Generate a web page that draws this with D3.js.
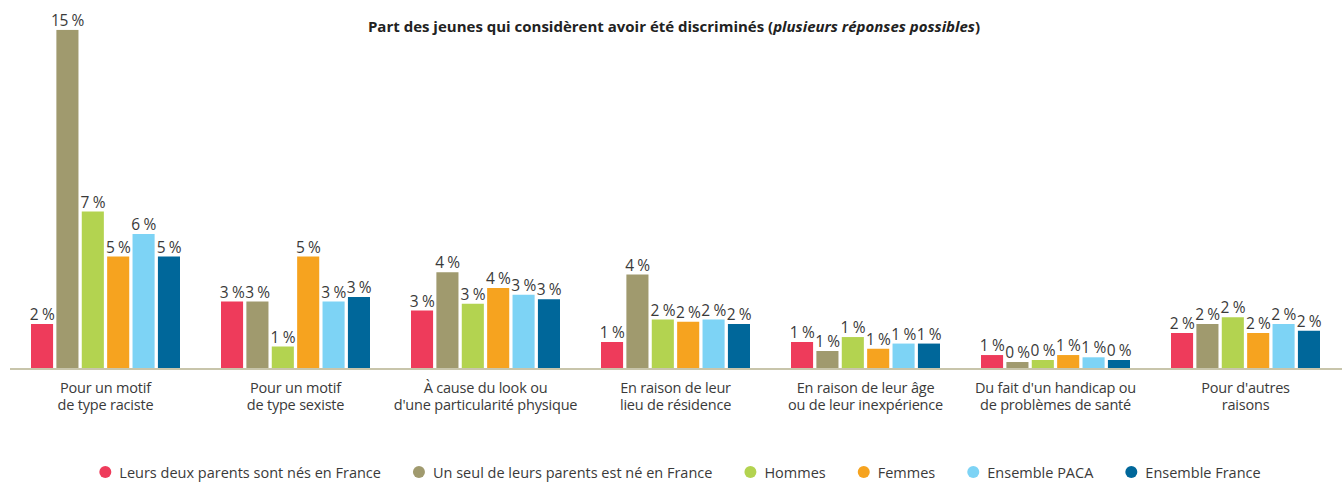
<!DOCTYPE html>
<html lang="fr">
<head>
<meta charset="utf-8">
<script src="https://cdn.jsdelivr.net/npm/d3@7"></script>
<style>
  html, body { margin: 0; padding: 0; background: #fff; }
  svg { display: block; font-family: "Open Sans", "Noto Sans", sans-serif; }
</style>
</head>
<body>
<svg id="chart" width="1342" height="484"></svg>
<script>
// Categories (each label split on two lines)
const categories = [
  ["Pour un motif", "de type raciste"],
  ["Pour un motif", "de type sexiste"],
  ["À cause du look ou", "d'une particularité physique"],
  ["En raison de leur", "lieu de résidence"],
  ["En raison de leur âge", "ou de leur inexpérience"],
  ["Du fait d'un handicap ou", "de problèmes de santé"],
  ["Pour d'autres", "raisons"]
];

// Series names
const seriesNames = [
  "Leurs deux parents sont nés en France",
  "Un seul de leurs parents est né en France",
  "Hommes",
  "Femmes",
  "Ensemble PACA",
  "Ensemble France"
];

// Shares (%) for each series, in category order
const deuxParents = [2.0, 3.0, 2.6, 1.2, 1.2, 0.62, 1.6];
const unSeulParent = [15.07, 3.0, 4.3, 4.2, 0.8, 0.31, 2.0];
const hommes = [7.0, 1.0, 2.9, 2.2, 1.42, 0.4, 2.3];
const femmes = [5.0, 5.0, 3.6, 2.1, 0.9, 0.62, 1.6];
const ensemblePACA = [6.0, 3.0, 3.3, 2.2, 1.13, 0.52, 2.0];
const ensembleFrance = [5.0, 3.2, 3.1, 2.0, 1.13, 0.4, 1.7];

const seriesValues = [deuxParents, unSeulParent, hommes, femmes, ensemblePACA, ensembleFrance];
const colors = ["#ee3b5b", "#a09a6e", "#b3d350", "#f6a31f", "#7dd3f5", "#00679a"];

const title = "Part des jeunes qui considèrent avoir été discriminés (";
const titleItalic = "plusieurs réponses possibles";

const svg = d3.select("#chart");
const W = 1342;
const baseY = 369;

// Scales
const x0 = d3.scaleBand()
  .domain(d3.range(categories.length))
  .range([10.5, 1340.5])
  .paddingInner(0.2158)
  .paddingOuter(0.1079);

const x1 = d3.scaleBand()
  .domain(d3.range(seriesNames.length))
  .range([0, x0.bandwidth()])
  .paddingInner(0.13)
  .paddingOuter(0);

const y = d3.scaleLinear().domain([0, 15]).range([baseY, 31.5]);

// Title
const t = svg.append("text")
  .attr("x", 674).attr("y", 32)
  .attr("text-anchor", "middle")
  .attr("font-size", 15).attr("font-weight", 700)
  .attr("fill", "#222");
t.append("tspan").text(title);
t.append("tspan").attr("font-style", "italic").text(titleItalic);
t.append("tspan").text(")");

// Bars
const rows = categories.map((c, i) => seriesValues.map((s, j) => ({ cat: i, ser: j, value: s[i] })));

const groups = svg.append("g").selectAll("g")
  .data(rows).join("g")
  .attr("transform", (d, i) => `translate(${x0(i)},0)`);

groups.selectAll("rect")
  .data(d => d).join("rect")
  .attr("x", d => x1(d.ser))
  .attr("width", x1.bandwidth())
  .attr("y", d => y(d.value))
  .attr("height", d => baseY - y(d.value))
  .attr("fill", d => colors[d.ser]);

groups.selectAll("text")
  .data(d => d).join("text")
  .attr("x", d => x1(d.ser) + x1.bandwidth() / 2)
  .attr("y", d => y(d.value) - 4)
  .attr("text-anchor", "middle")
  .attr("font-size", 15.5)
  .attr("letter-spacing", -0.4)
  .attr("fill", "#3a3a3a")
  .text(d => Math.round(d.value) + " %");

// Category axis
const axis = svg.append("g")
  .attr("transform", `translate(0,${baseY})`)
  .call(d3.axisBottom(x0).tickSize(0).tickSizeOuter(0).tickFormat(() => ""));
axis.select(".domain")
  .attr("d", `M10,0H${W}`)
  .attr("stroke", "#c8c5ab")
  .attr("stroke-width", 2);
axis.selectAll(".tick text").remove();
axis.selectAll(".tick").each(function (i) {
  const txt = d3.select(this).append("text")
    .attr("text-anchor", "middle")
    .attr("fill", "#3a3a3a")
    .attr("font-size", 14.5)
    .attr("letter-spacing", -0.2)
    .attr("font-family", "'Open Sans', 'Noto Sans', sans-serif");
  categories[i].forEach((line, k) => {
    txt.append("tspan").attr("x", 0).attr("y", 24 + k * 17).text(line);
  });
});

// Legend
const legend = svg.append("g");
const items = legend.selectAll("g").data(seriesNames).join("g");
items.append("circle").attr("r", 6).attr("cy", 472).attr("fill", (d, i) => colors[i]);
items.append("text")
  .attr("x", 14).attr("y", 477.5)
  .attr("font-size", 14.5)
  .attr("fill", "#3a3a3a")
  .text(d => d);
const gap = 38;
let cx = 0;
const positions = [];
items.each(function () {
  const w = d3.select(this).select("text").node().getComputedTextLength();
  positions.push(cx);
  cx += 14 + w + gap;
});
const total = cx - gap + 6;
const start = 680 - total / 2 + 6;
items.attr("transform", (d, i) => `translate(${start + positions[i]},0)`)
  .select("circle").attr("cx", 0);
</script>
</body>
</html>
